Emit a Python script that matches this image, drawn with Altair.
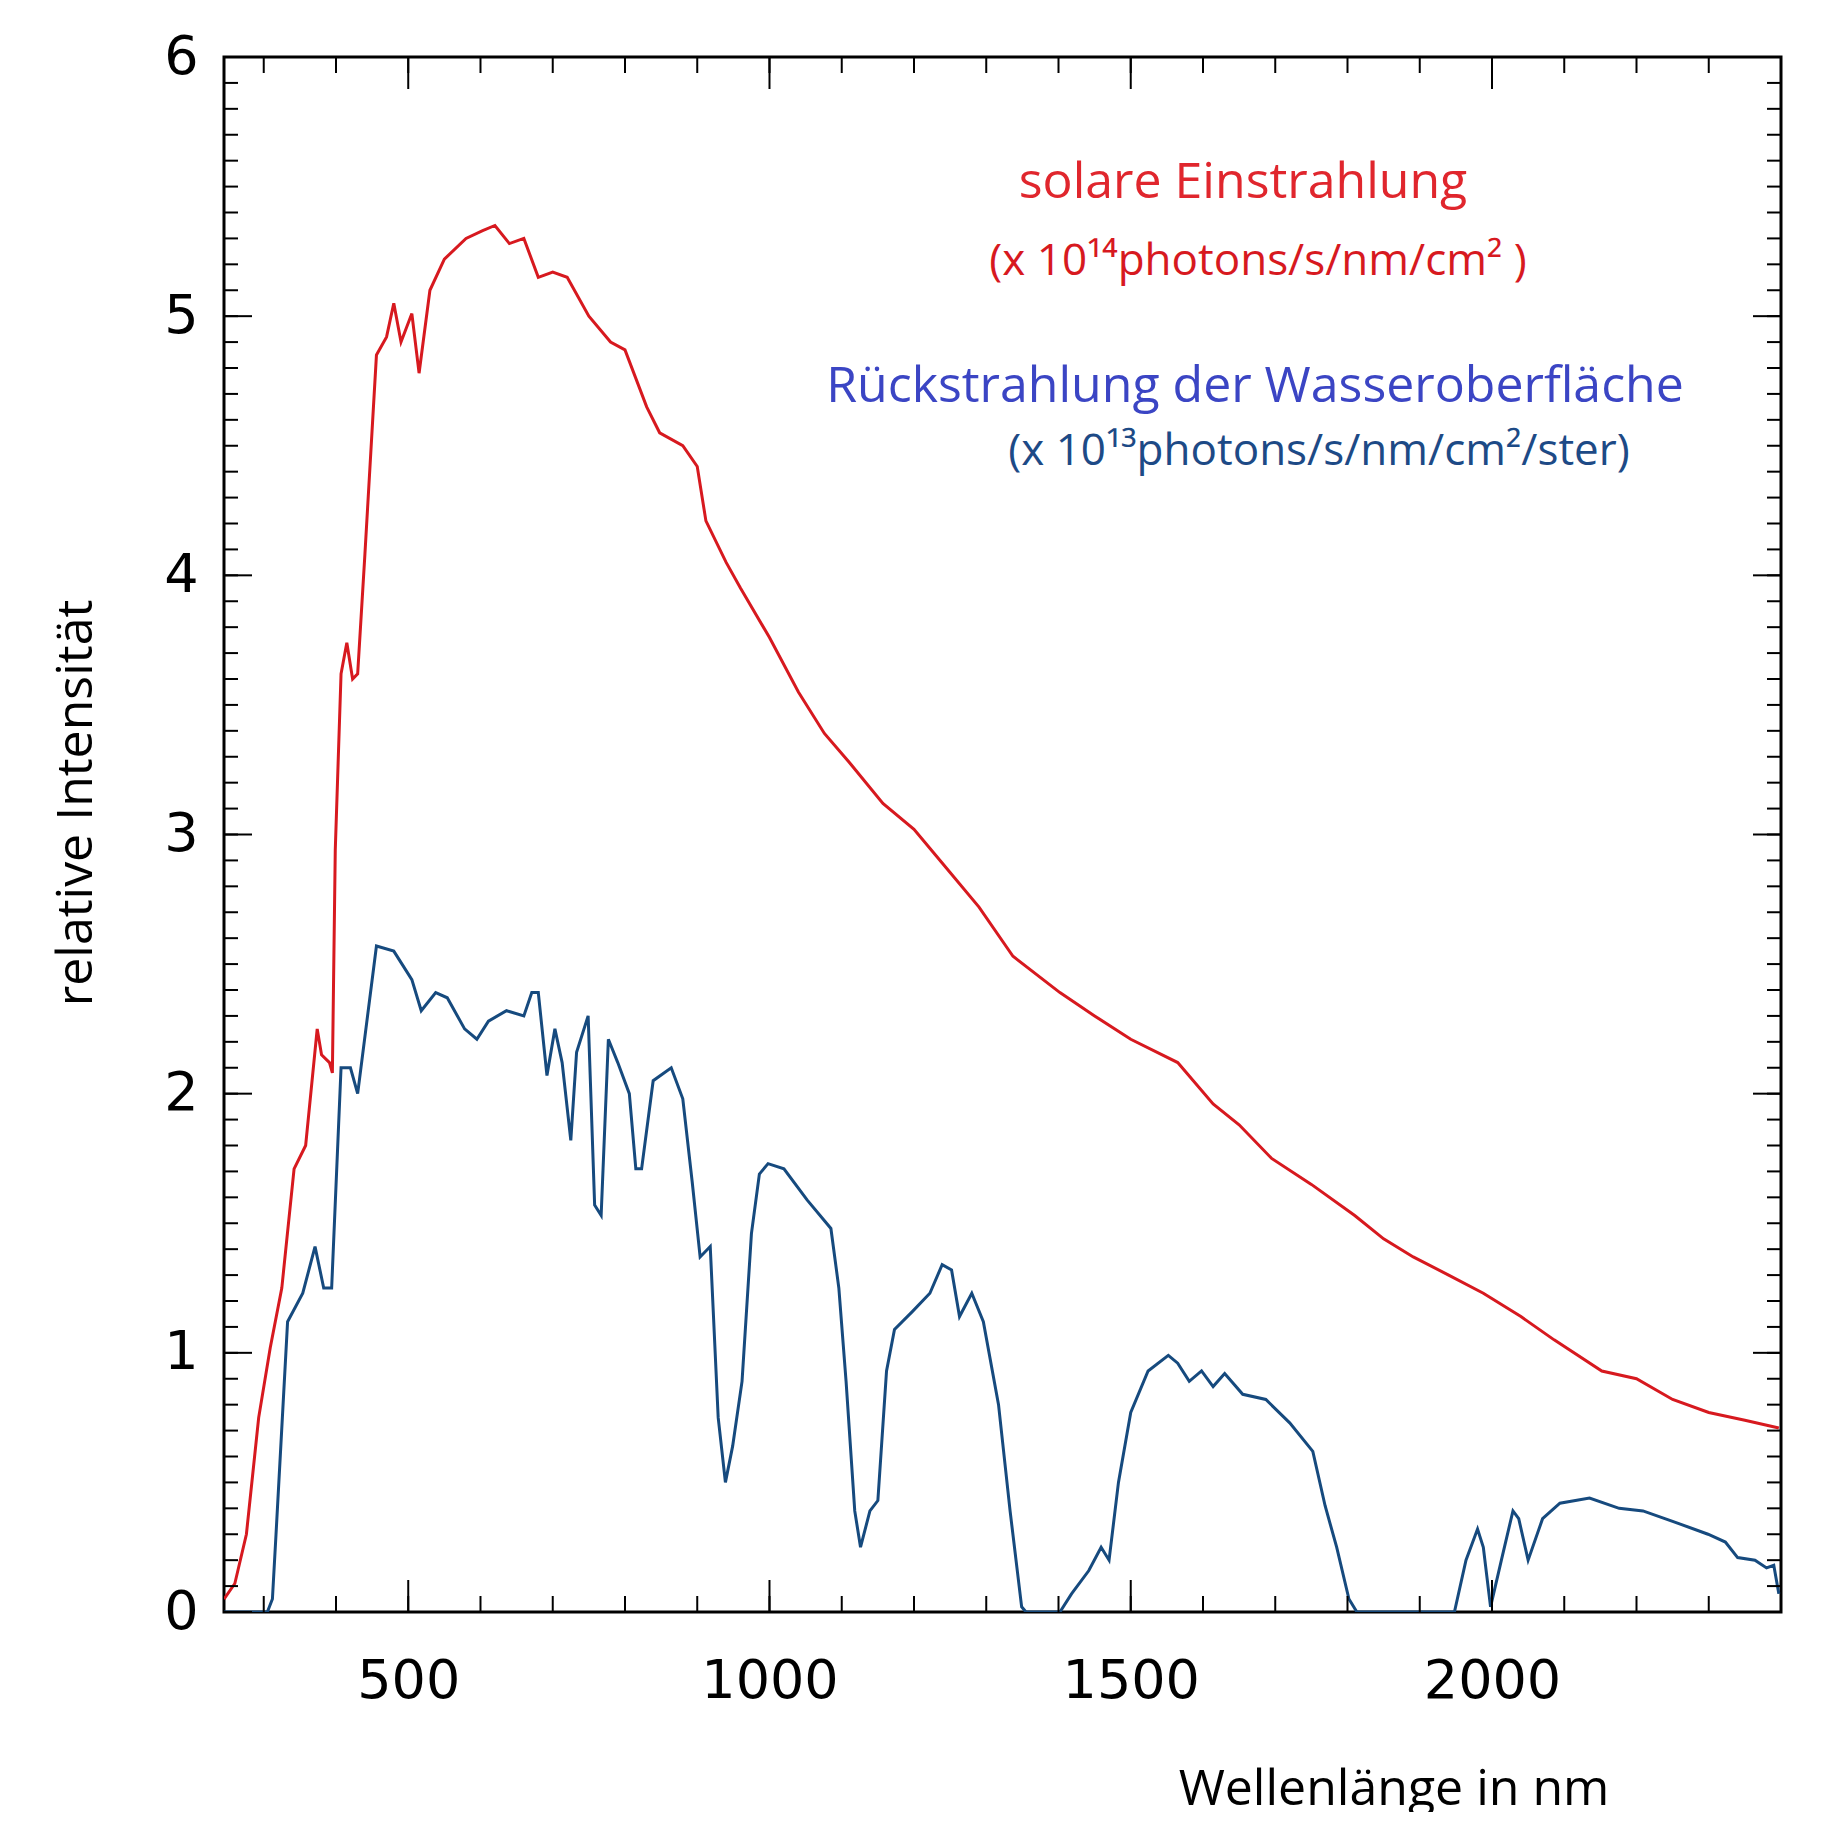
import altair as alt
import pandas as pd

# solar irradiance (red), x 1e14 photons/s/nm/cm2
red_nm = [245, 260, 276, 293, 309, 325, 342, 358, 374, 380, 391, 395, 399, 407, 415, 423, 430, 440,
          456, 470, 480, 490, 505, 515, 530, 550, 580, 603, 620, 640, 660, 680, 700, 720, 750, 780,
          800, 830, 848, 880, 900, 912, 940, 960, 1000, 1040, 1076, 1110, 1157, 1200, 1239, 1290,
          1337, 1402, 1450, 1500, 1565, 1614, 1650, 1695, 1750, 1810, 1850, 1891, 1940, 1988, 2040,
          2086, 2152, 2200, 2250, 2300, 2350, 2397]
red_val = [0.05, 0.11, 0.30, 0.75, 1.02, 1.25, 1.71, 1.80, 2.25, 2.15, 2.12, 2.08, 2.94, 3.62, 3.74,
           3.60, 3.62, 4.08, 4.85, 4.92, 5.05, 4.90, 5.01, 4.78, 5.10, 5.22, 5.30, 5.33, 5.35, 5.28,
           5.30, 5.15, 5.17, 5.15, 5.00, 4.90, 4.87, 4.65, 4.55, 4.50, 4.42, 4.21, 4.05, 3.95, 3.76,
           3.55, 3.39, 3.28, 3.12, 3.02, 2.89, 2.72, 2.53, 2.39, 2.30, 2.21, 2.12, 1.96, 1.88, 1.75,
           1.65, 1.53, 1.44, 1.37, 1.30, 1.23, 1.14, 1.05, 0.93, 0.90, 0.82, 0.77, 0.74, 0.71]

# water-leaving radiance (blue), x 1e13 photons/s/nm/cm2/ster
blue_nm = [245, 305, 312, 317, 333, 354, 371, 383, 394, 407, 420, 430, 456, 480, 505, 518, 538, 554,
           578, 595, 611, 636, 660, 671, 680, 692, 703, 713, 725, 733, 749, 758, 767, 777, 790, 806,
           815, 823, 839, 864, 880, 893, 904, 918, 929, 939, 949, 962, 975, 986, 998, 1020, 1052,
           1085, 1096, 1106, 1118, 1126, 1139, 1150, 1162, 1173, 1198, 1222, 1239, 1252, 1263, 1280,
           1296, 1317, 1333, 1349, 1355, 1402, 1418, 1442, 1459, 1470, 1483, 1500, 1524, 1552, 1565,
           1581, 1598, 1614, 1630, 1655, 1687, 1720, 1752, 1769, 1785, 1802, 1813, 1948, 1964, 1980,
           1988, 1998, 2013, 2029, 2037, 2050, 2070, 2094, 2135, 2176, 2209, 2250, 2299, 2323, 2340,
           2364, 2380, 2390, 2397]
blue_val = [0.0, 0.0, 0.05, 0.30, 1.12, 1.23, 1.41, 1.25, 1.25, 2.10, 2.10, 2.00, 2.57, 2.55, 2.44,
            2.32, 2.39, 2.37, 2.25, 2.21, 2.28, 2.32, 2.30, 2.39, 2.39, 2.07, 2.25, 2.12, 1.82, 2.16,
            2.30, 1.57, 1.53, 2.21, 2.12, 2.00, 1.71, 1.71, 2.05, 2.10, 1.98, 1.66, 1.37, 1.41, 0.75,
            0.50, 0.64, 0.89, 1.46, 1.69, 1.73, 1.71, 1.59, 1.48, 1.25, 0.89, 0.39, 0.25, 0.39, 0.43,
            0.93, 1.09, 1.16, 1.23, 1.34, 1.32, 1.14, 1.23, 1.12, 0.80, 0.39, 0.02, 0.0, 0.0, 0.07,
            0.16, 0.25, 0.20, 0.50, 0.77, 0.93, 0.99, 0.96, 0.89, 0.93, 0.87, 0.92, 0.84, 0.82, 0.73,
            0.62, 0.41, 0.25, 0.05, 0.0, 0.0, 0.20, 0.32, 0.25, 0.02, 0.20, 0.39, 0.36, 0.20, 0.36,
            0.42, 0.44, 0.40, 0.39, 0.35, 0.30, 0.27, 0.21, 0.20, 0.17, 0.18, 0.07]

x_major = [500, 1000, 1500, 2000]
x_minor = list(range(300, 2401, 100))
y_major = [0, 1, 2, 3, 4, 5, 6]
y_minor = [i / 10 for i in range(0, 61)]

W, H = 1557, 1555
X_DOM = [245, 2400]
xs = alt.Scale(domain=X_DOM, nice=False, zero=False)
ys = alt.Scale(domain=[0, 6], nice=False)

df = pd.concat([
    pd.DataFrame({"nm": red_nm, "val": red_val, "s": "red"}),
    pd.DataFrame({"nm": blue_nm, "val": blue_val, "s": "blue"}),
])

lines = alt.Chart(df).mark_line(strokeWidth=3, clip=True).encode(
    x=alt.X("nm:Q", scale=xs, axis=alt.Axis(values=x_major, format="d", title=None, ticks=False,
            grid=False, domain=False, labelFontSize=54, labelPadding=42, labelFont="DejaVu Sans")),
    y=alt.Y("val:Q", scale=ys, axis=alt.Axis(values=y_major, format="d", title=None, ticks=False,
            grid=False, domain=False, labelFontSize=54, labelPadding=26, labelFont="DejaVu Sans")),
    color=alt.Color("s:N", scale=alt.Scale(domain=["red", "blue"], range=["#d7191f", "#164a7e"]),
                    legend=None),
    detail="s:N",
)


def xticks(vals, length):
    d = pd.DataFrame({"v": vals})
    b = alt.Chart(d).mark_rule(color="black", strokeWidth=2).encode(
        x=alt.X("v:Q", scale=xs), y=alt.value(H), y2=alt.value(H - length))
    t = alt.Chart(d).mark_rule(color="black", strokeWidth=2).encode(
        x=alt.X("v:Q", scale=xs), y=alt.value(0), y2=alt.value(length))
    return b + t


def yticks(vals, length):
    d = pd.DataFrame({"v": vals})
    l = alt.Chart(d).mark_rule(color="black", strokeWidth=2).encode(
        y=alt.Y("v:Q", scale=ys), x=alt.value(0), x2=alt.value(length))
    r = alt.Chart(d).mark_rule(color="black", strokeWidth=2).encode(
        y=alt.Y("v:Q", scale=ys), x=alt.value(W), x2=alt.value(W - length))
    return l + r


def label(text, x, y, size, color, angle=0, font="Open Sans"):
    return alt.Chart(pd.DataFrame({"t": [text]})).mark_text(
        fontSize=size, color=color, font=font, angle=angle, align="center", baseline="middle"
    ).encode(text="t:N", x=alt.value(x), y=alt.value(y))


texts = (
    label("solare Einstrahlung", 1019, 126, 50, "#e0262d")
    + label("(x 10¹⁴photons/s/nm/cm² )", 1034, 205, 44, "#d7191f")
    + label("Rückstrahlung der Wasseroberfläche", 1031, 330, 50, "#3b45c4")
    + label("(x 10¹³photons/s/nm/cm²/ster)", 1095, 395, 44, "#1d4a86")
    + label("Wellenlänge in nm", 1170, 1733, 50, "black")
    + label("relative Intensität", -147, 746, 50, "black", angle=270)
)

chart = alt.layer(
    lines,
    xticks(x_minor, 16), xticks(x_major, 32),
    yticks(y_minor, 14), yticks(y_major, 28),
    texts,
).properties(
    width=W, height=H,
    autosize=alt.AutoSizeParams(type="none"),
    padding={"left": 216, "top": 49, "right": 40, "bottom": 200},
).configure_view(stroke="black", strokeWidth=3)

chart.save("out.html", embed_options={"renderer": "svg", "actions": False})
